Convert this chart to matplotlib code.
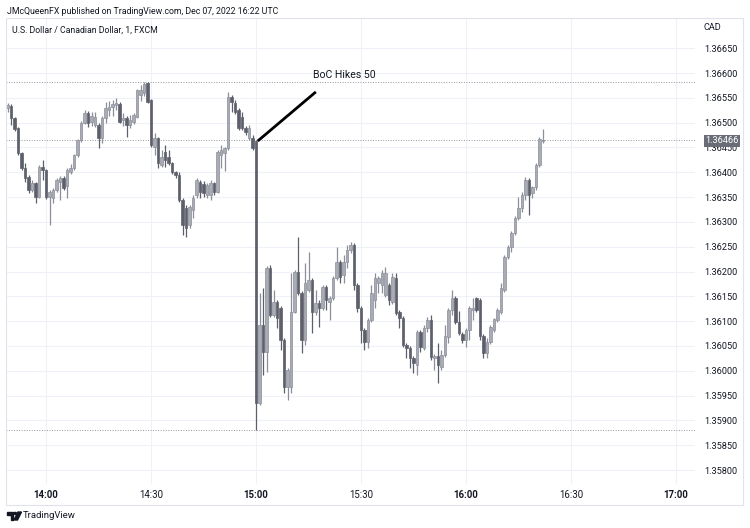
import matplotlib
matplotlib.use("Agg")
import matplotlib.pyplot as plt
import matplotlib.dates as mdates
from matplotlib.patches import Rectangle, Polygon, Circle
import pandas as pd

plt.rcParams['font.family'] = ['Roboto', 'DejaVu Sans']

# ---------------- data (USD/CAD 1-minute, 07 Dec 2022) ----------------
start_time = "2022-12-07 13:49"
opens = [
    1.36530, 1.36534, 1.36509, 1.36489, 1.36439, 1.36409, 1.36390, 1.36364, 1.36378, 1.36350,
    1.36411, 1.36405, 1.36350, 1.36348, 1.36364, 1.36380, 1.36388, 1.36372, 1.36400, 1.36409,
    1.36435, 1.36465, 1.36499, 1.36519, 1.36501, 1.36495, 1.36495, 1.36469, 1.36509, 1.36526,
    1.36532, 1.36536, 1.36538, 1.36505, 1.36509, 1.36495, 1.36501, 1.36511, 1.36556, 1.36560,
    1.36580, 1.36546, 1.36451, 1.36469, 1.36415, 1.36441, 1.36431, 1.36419, 1.36400, 1.36394,
    1.36344, 1.36328, 1.36294, 1.36324, 1.36354, 1.36380, 1.36376, 1.36354, 1.36354, 1.36378,
    1.36360, 1.36435, 1.36439, 1.36449, 1.36552, 1.36540, 1.36526, 1.36511, 1.36489, 1.36469,
    1.36469, 1.36463, 1.35935, 1.36092, 1.36038, 1.36207, 1.36112, 1.36138, 1.36126, 1.36062,
    1.35967, 1.35967, 1.36118, 1.36199, 1.36156, 1.36062, 1.36162, 1.36183, 1.36118, 1.36136,
    1.36126, 1.36168, 1.36138, 1.36146, 1.36187, 1.36219, 1.36193, 1.36219, 1.36243, 1.36253,
    1.36173, 1.36126, 1.36082, 1.36058, 1.36102, 1.36142, 1.36177, 1.36173, 1.36152, 1.36173,
    1.36138, 1.36187, 1.36118, 1.36106, 1.36052, 1.36046, 1.36026, 1.36011, 1.36078, 1.36046,
    1.36086, 1.36102, 1.36026, 1.36030, 1.36007, 1.36032, 1.36068, 1.36122, 1.36146, 1.36098,
    1.36074, 1.36062, 1.36082, 1.36122, 1.36146, 1.36142, 1.36070, 1.36036, 1.36058, 1.36082,
    1.36102, 1.36118, 1.36162, 1.36229, 1.36249, 1.36277, 1.36308, 1.36328, 1.36354, 1.36384,
    1.36358, 1.36370, 1.36415, 1.36464]
highs = [
    1.36540, 1.36538, 1.36511, 1.36491, 1.36441, 1.36419, 1.36394, 1.36384, 1.36380, 1.36415,
    1.36425, 1.36407, 1.36364, 1.36368, 1.36388, 1.36392, 1.36392, 1.36409, 1.36417, 1.36437,
    1.36467, 1.36503, 1.36525, 1.36523, 1.36521, 1.36521, 1.36499, 1.36513, 1.36542, 1.36544,
    1.36546, 1.36550, 1.36542, 1.36519, 1.36513, 1.36515, 1.36519, 1.36568, 1.36576, 1.36582,
    1.36582, 1.36548, 1.36479, 1.36471, 1.36445, 1.36455, 1.36445, 1.36421, 1.36402, 1.36400,
    1.36348, 1.36334, 1.36334, 1.36354, 1.36388, 1.36384, 1.36382, 1.36378, 1.36384, 1.36380,
    1.36445, 1.36455, 1.36451, 1.36562, 1.36556, 1.36546, 1.36530, 1.36521, 1.36493, 1.36495,
    1.36475, 1.36465, 1.36156, 1.36166, 1.36211, 1.36213, 1.36162, 1.36142, 1.36130, 1.36066,
    1.36005, 1.36197, 1.36203, 1.36269, 1.36160, 1.36217, 1.36239, 1.36187, 1.36162, 1.36142,
    1.36173, 1.36173, 1.36150, 1.36191, 1.36249, 1.36223, 1.36233, 1.36253, 1.36259, 1.36257,
    1.36177, 1.36130, 1.36086, 1.36106, 1.36173, 1.36197, 1.36191, 1.36203, 1.36209, 1.36177,
    1.36197, 1.36197, 1.36122, 1.36110, 1.36056, 1.36050, 1.36030, 1.36082, 1.36082, 1.36092,
    1.36108, 1.36112, 1.36034, 1.36056, 1.36042, 1.36092, 1.36126, 1.36162, 1.36150, 1.36120,
    1.36078, 1.36086, 1.36130, 1.36146, 1.36148, 1.36146, 1.36074, 1.36066, 1.36092, 1.36106,
    1.36126, 1.36177, 1.36233, 1.36253, 1.36281, 1.36312, 1.36350, 1.36360, 1.36390, 1.36388,
    1.36372, 1.36419, 1.36471, 1.36487]
lows = [
    1.36522, 1.36495, 1.36483, 1.36435, 1.36405, 1.36380, 1.36358, 1.36360, 1.36338, 1.36348,
    1.36384, 1.36346, 1.36294, 1.36338, 1.36360, 1.36344, 1.36364, 1.36348, 1.36396, 1.36405,
    1.36431, 1.36461, 1.36497, 1.36491, 1.36493, 1.36491, 1.36449, 1.36459, 1.36499, 1.36513,
    1.36513, 1.36526, 1.36499, 1.36493, 1.36471, 1.36489, 1.36497, 1.36509, 1.36544, 1.36554,
    1.36540, 1.36451, 1.36435, 1.36409, 1.36411, 1.36411, 1.36415, 1.36396, 1.36388, 1.36340,
    1.36273, 1.36269, 1.36288, 1.36308, 1.36348, 1.36348, 1.36350, 1.36348, 1.36344, 1.36354,
    1.36358, 1.36409, 1.36402, 1.36445, 1.36521, 1.36517, 1.36485, 1.36485, 1.36475, 1.36465,
    1.36445, 1.35880, 1.35931, 1.35991, 1.35997, 1.36108, 1.36108, 1.36086, 1.36042, 1.35955,
    1.35941, 1.35955, 1.36116, 1.36152, 1.36036, 1.36052, 1.36158, 1.36076, 1.36112, 1.36088,
    1.36122, 1.36122, 1.36102, 1.36142, 1.36183, 1.36177, 1.36177, 1.36207, 1.36237, 1.36162,
    1.36118, 1.36056, 1.36042, 1.36046, 1.36098, 1.36126, 1.36156, 1.36156, 1.36148, 1.36132,
    1.36134, 1.36112, 1.36086, 1.36048, 1.36026, 1.36005, 1.35995, 1.35991, 1.36038, 1.36042,
    1.36078, 1.36022, 1.36001, 1.35975, 1.36001, 1.36028, 1.36056, 1.36112, 1.36094, 1.36072,
    1.36056, 1.36048, 1.36062, 1.36102, 1.36118, 1.36062, 1.36026, 1.36026, 1.36054, 1.36078,
    1.36098, 1.36114, 1.36158, 1.36225, 1.36239, 1.36273, 1.36304, 1.36320, 1.36344, 1.36314,
    1.36348, 1.36364, 1.36411, 1.36459]
closes = [
    1.36536, 1.36509, 1.36487, 1.36439, 1.36409, 1.36388, 1.36364, 1.36378, 1.36350, 1.36411,
    1.36405, 1.36350, 1.36360, 1.36364, 1.36384, 1.36388, 1.36368, 1.36405, 1.36409, 1.36435,
    1.36465, 1.36499, 1.36519, 1.36499, 1.36513, 1.36511, 1.36469, 1.36509, 1.36530, 1.36532,
    1.36538, 1.36540, 1.36501, 1.36509, 1.36495, 1.36505, 1.36515, 1.36566, 1.36566, 1.36578,
    1.36542, 1.36455, 1.36469, 1.36419, 1.36431, 1.36425, 1.36419, 1.36400, 1.36394, 1.36344,
    1.36294, 1.36288, 1.36330, 1.36348, 1.36384, 1.36360, 1.36358, 1.36374, 1.36378, 1.36360,
    1.36441, 1.36445, 1.36449, 1.36552, 1.36542, 1.36521, 1.36489, 1.36489, 1.36481, 1.36489,
    1.36449, 1.35935, 1.36092, 1.36038, 1.36207, 1.36112, 1.36138, 1.36106, 1.36062, 1.35967,
    1.36001, 1.36118, 1.36199, 1.36156, 1.36062, 1.36177, 1.36183, 1.36118, 1.36136, 1.36126,
    1.36168, 1.36142, 1.36146, 1.36187, 1.36219, 1.36189, 1.36219, 1.36243, 1.36253, 1.36173,
    1.36126, 1.36082, 1.36058, 1.36102, 1.36156, 1.36187, 1.36187, 1.36197, 1.36197, 1.36142,
    1.36189, 1.36116, 1.36106, 1.36052, 1.36046, 1.36026, 1.36015, 1.36078, 1.36048, 1.36086,
    1.36102, 1.36028, 1.36030, 1.36011, 1.36032, 1.36070, 1.36122, 1.36146, 1.36098, 1.36076,
    1.36062, 1.36082, 1.36126, 1.36126, 1.36122, 1.36070, 1.36036, 1.36058, 1.36088, 1.36104,
    1.36122, 1.36166, 1.36229, 1.36249, 1.36277, 1.36308, 1.36328, 1.36354, 1.36384, 1.36354,
    1.36370, 1.36415, 1.36467, 1.36466]

price_ticks = [1.35800, 1.35850, 1.35900, 1.35950, 1.36000, 1.36050, 1.36100, 1.36150,
               1.36200, 1.36250, 1.36300, 1.36350, 1.36400, 1.36450, 1.36500, 1.36550,
               1.36600, 1.36650]
time_ticks = ["14:00", "14:30", "15:00", "15:30", "16:00", "16:30", "17:00"]
event_time = "2022-12-07 15:00"
event_price = 1.36463
event_label = "BoC Hikes 50"
header = "JMcQueenFX published on TradingView.com, Dec 07, 2022 16:22 UTC"
symbol_title = "U.S. Dollar / Canadian Dollar, 1, FXCM"

# ---------------- figure ----------------
W, H = 750, 528
fig = plt.figure(figsize=(W / 100, H / 100), dpi=100)
fig.patch.set_facecolor("white")

def fx(x):
    return x / W

def fy(y):
    return 1 - y / H

# outer chart frame
fig.patches.append(Rectangle((fx(6), fy(505)), fx(743) - fx(6), fy(18) - fy(505),
                             transform=fig.transFigure, fill=False,
                             edgecolor="#e0e3eb", lw=0.8, zorder=0))

ax = fig.add_axes([fx(6), fy(484), fx(695) - fx(6), fy(18) - fy(484)])
ax.set_facecolor("white")
for s in ax.spines.values():
    s.set_visible(False)

times = pd.date_range(start_time, periods=len(closes), freq="1min")
xs = mdates.date2num(times)
one_min = 1.0 / 1440.0
t14 = mdates.date2num(pd.Timestamp("2022-12-07 14:00"))

ax.set_xlim(t14 - 11.43 * one_min, t14 + 185.43 * one_min)
ax.set_ylim(1.357718, 1.367109)

# grid
tick_x = [mdates.date2num(pd.Timestamp("2022-12-07 " + t)) for t in time_ticks]
for tx in tick_x:
    ax.axvline(tx, color="#eef1f7", lw=0.8, zorder=0)
for p in price_ticks:
    ax.axhline(p, color="#eef1f7", lw=0.8, zorder=0)

# high / low / last dotted lines
dot_kw = dict(color="#9598a1", lw=0.7, linestyle=(0, (1, 1.6)), zorder=1)
ax.axhline(max(highs), **dot_kw)
ax.axhline(min(lows), **dot_kw)
ax.axhline(closes[-1], **dot_kw)

# candles
up_col = "#a9acb5"
up_edge = "#8c8f99"
dn_col = "#5d606b"
cols = [up_col if c >= o else dn_col for o, c in zip(opens, closes)]
edges = [up_edge if c >= o else dn_col for o, c in zip(opens, closes)]
ax.vlines(xs, lows, highs, colors=edges, lw=0.9, zorder=2)
bottoms = [min(o, c) for o, c in zip(opens, closes)]
heights = [max(abs(c - o), 0.000012) for o, c in zip(opens, closes)]
ax.bar(xs, heights, bottom=bottoms, width=0.8 * one_min, color=cols,
       edgecolor=edges, lw=0.5, zorder=3)

# annotation
ex = mdates.date2num(pd.Timestamp(event_time)) + 0.5 * one_min
ax.plot([ex, ex + 16.6 * one_min], [event_price, 1.36562], color="black", lw=2.0,
        solid_capstyle="butt", zorder=4)
ax.text(ex + 24.6 * one_min, 1.36597, event_label, fontsize=7.6, color="#131722",
        ha="center", va="center", zorder=5)

# axes ticks
ax.yaxis.tick_right()
ax.set_yticks(price_ticks)
ax.set_yticklabels([f"{p:.5f}" for p in price_ticks])
ax.tick_params(axis="y", length=0, pad=7, labelsize=6.6, labelcolor="#131722")
ax.set_xticks(tick_x)
ax.set_xticklabels(time_ticks)
ax.tick_params(axis="x", length=0, pad=4, labelsize=6.9, labelcolor="#131722")
for lab in ax.get_xticklabels():
    if lab.get_text().endswith(":00"):
        lab.set_fontweight("bold")

# last price label
fig.patches.append(Rectangle((fx(704), fy(146.5)), fx(740) - fx(704), fy(134.5) - fy(146.5),
                             transform=fig.transFigure, facecolor="#6a6d78",
                             edgecolor="none", zorder=10))
fig.text(fx(722), fy(140.5), f"{closes[-1]:.5f}", color="white", fontsize=6.6,
         ha="center", va="center", zorder=11)

# texts
fig.text(fx(7), fy(12), header, fontsize=6.3, color="#131722", va="center", ha="left")
fig.text(fx(12), fy(30), symbol_title, fontsize=6.3, color="#131722", va="center", ha="left")
fig.text(fx(704), fy(27), "CAD", fontsize=6.6, color="#131722", va="center", ha="left")

# TradingView logo + wordmark
logo_col = "#131722"
fig.patches.append(Polygon([(fx(7), fy(512)), (fx(13.5), fy(512)), (fx(13.5), fy(520)),
                            (fx(10.5), fy(520)), (fx(10.5), fy(515)), (fx(7), fy(515))],
                           closed=True, transform=fig.transFigure, color=logo_col))
fig.patches.append(Circle((fx(15.2), fy(513.4)), 1.4 / W, transform=fig.transFigure,
                          color=logo_col))
fig.patches.append(Polygon([(fx(18), fy(512)), (fx(21.5), fy(512)), (fx(17.5), fy(520)),
                            (fx(14), fy(520))],
                           closed=True, transform=fig.transFigure, color=logo_col))
fig.text(fx(23), fy(516), "TradingView", fontsize=6.8, color=logo_col, va="center", ha="left")

fig.savefig("out.png", dpi=100, facecolor="white")
